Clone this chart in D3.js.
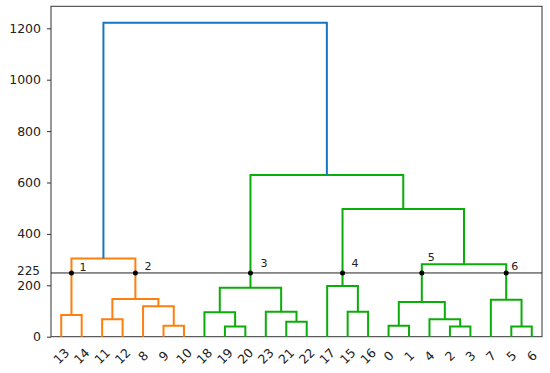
<!DOCTYPE html>
<html><head><meta charset="utf-8">
<script src="https://cdn.jsdelivr.net/npm/d3@7"></script>
<style>
body{margin:0;background:#fff;}
svg{display:block;}
text{font-family:"DejaVu Sans",sans-serif;fill:#222;}
</style></head>
<body><svg id="chart" width="550" height="373"></svg>
<script>
// ---- data ----
const leafOrder = [13,14,11,12,8,9,10,18,19,20,23,21,22,17,15,16,0,1,4,2,3,7,5,6];
const leafCount = 24;
// merge node ids are leafCount + index
const mergeLeft   = [13,11, 9, 8,25,24,19,18,21,23,31,15,17, 0, 2, 4,37, 5, 7,40,36,34,29];
const mergeRight  = [14,12,10,26,27,28,20,30,22,32,33,16,35, 1, 3,38,39, 6,41,42,43,44,45];
const mergeHeight = [84,68,43,118,147,304,40,95,58,97,190,97,197,43,40,68,135,40,144,282,497,629,1222];
const clusterRoots = [29,45];
const yTicks = [0,200,400,600,800,1000,1200];
const cutValue = 248;
const cutLabel = "225";
const clusterLabels = ["1","2","3","4","5","6"];

// ---- styles ----
const colors = ["#ff7f0e","#0aad0a"];
const aboveColor = "#1577c2";
const labelOffsets = [[8,-2],[9,-3],[10,-6],[9,-6],[6,-12],[5,-3]];

const svg = d3.select("#chart");
const L=51, R=542, T=6.3, B=336.7;
const x = d3.scaleBand().domain(leafOrder).range([L,R]);
const y = d3.scaleLinear().domain([0,1285.6]).range([B,T]);

// compute node positions
const nodeX = {}, nodeH = {}, parent = {};
leafOrder.forEach(l => { nodeX[l] = x(l) + x.bandwidth()/2; nodeH[l] = 0; });
mergeHeight.forEach((h,i) => {
  const id = leafCount + i, a = mergeLeft[i], b = mergeRight[i];
  nodeX[id] = (nodeX[a] + nodeX[b]) / 2;
  nodeH[id] = h;
  parent[a] = id; parent[b] = id;
});
function colorOf(id){
  let n = id;
  while(n !== undefined){
    const k = clusterRoots.indexOf(n);
    if(k >= 0) return colors[k];
    n = parent[n];
  }
  return aboveColor;
}

// frame
svg.append("rect").attr("x",L).attr("y",T).attr("width",R-L).attr("height",B-T)
  .attr("fill","none").attr("stroke","#333").attr("stroke-width",1);

// links
mergeHeight.forEach((h,i) => {
  const id = leafCount + i, a = mergeLeft[i], b = mergeRight[i];
  const p = d3.path();
  p.moveTo(nodeX[a], y(nodeH[a]));
  p.lineTo(nodeX[a], y(h));
  p.lineTo(nodeX[b], y(h));
  p.lineTo(nodeX[b], y(nodeH[b]));
  svg.append("path").attr("d", p.toString()).attr("fill","none")
    .attr("stroke", colorOf(id)).attr("stroke-width",2);
});

// y axis
const ax = svg.append("g").attr("transform",`translate(${L},0)`)
  .call(d3.axisLeft(y).tickValues(yTicks).tickSize(4).tickPadding(6).tickFormat(d3.format("d")));
ax.select(".domain").remove();
ax.selectAll(".tick line").attr("stroke","#333");
ax.selectAll("text").attr("font-size","12.5px").style("font-family","DejaVu Sans").attr("fill","#222");

// x labels
leafOrder.forEach(l => {
  svg.append("text").attr("font-size","12.5px")
    .attr("text-anchor","middle").attr("dominant-baseline","central")
    .attr("transform",`translate(${nodeX[l]},356) rotate(-45)`).text(l);
});

// cut line
const cy = y(cutValue);
svg.append("line").attr("x1",L).attr("x2",R).attr("y1",cy).attr("y2",cy)
  .attr("stroke","#222").attr("stroke-width",1);
svg.append("text").attr("x",L-11).attr("y",cy-1.5).attr("text-anchor","end")
  .attr("dominant-baseline","central").attr("font-size","12px").text(cutLabel);

// clusters crossing the cut
const cutNodes = [];
mergeHeight.forEach((h,i) => {
  const id = leafCount + i;
  if(h < cutValue && parent[id] !== undefined && nodeH[parent[id]] > cutValue) cutNodes.push(id);
});
cutNodes.sort((a,b) => nodeX[a]-nodeX[b]);
cutNodes.forEach((id,k) => {
  svg.append("circle").attr("cx",nodeX[id]).attr("cy",cy).attr("r",2.5).attr("fill","#000");
  svg.append("text").attr("x",nodeX[id]+labelOffsets[k][0]).attr("y",cy+labelOffsets[k][1])
    .attr("font-size","11px").text(clusterLabels[k]);
});
</script></body></html>
